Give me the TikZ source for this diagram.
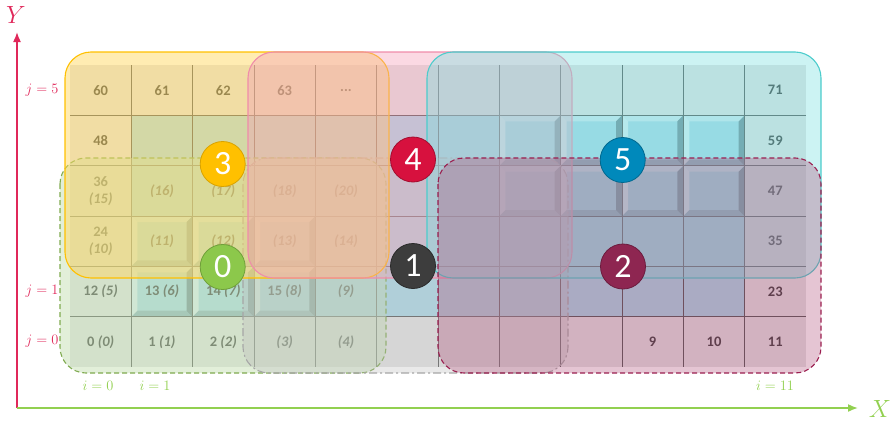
\documentclass[tikz,border=0pt]{standalone}
\usepackage{fontspec}
\newfontfamily\carl{Carlito}
\usetikzlibrary{arrows.meta}
\definecolor{gridgrey}{HTML}{E3E3E3}
\definecolor{gridblue}{HTML}{A8D8E8}
\definecolor{gridline}{HTML}{505050}
\definecolor{txtgrey}{HTML}{383838}
\definecolor{g0fill}{HTML}{C5E0B4}
\definecolor{g0line}{HTML}{7FAA4F}
\definecolor{g1fill}{HTML}{BFBFBF}
\definecolor{g1line}{HTML}{A6A6A6}
\definecolor{g2fill}{HTML}{B0507A}
\definecolor{g2line}{HTML}{9B1F50}
\definecolor{g3fill}{HTML}{FFD966}
\definecolor{g3line}{HTML}{FFC000}
\definecolor{g4fill}{HTML}{F4A0B8}
\definecolor{g4line}{HTML}{F08CAA}
\definecolor{g5fill}{HTML}{7FE0E0}
\definecolor{g5line}{HTML}{4CCCCC}
\definecolor{k0}{HTML}{8CC84B}\definecolor{k0b}{HTML}{6FA03A}
\definecolor{k1}{HTML}{3D3D3D}\definecolor{k1b}{HTML}{2A2A2A}
\definecolor{k2}{HTML}{8E2651}\definecolor{k2b}{HTML}{6C1C3E}
\definecolor{k3}{HTML}{FFC000}\definecolor{k3b}{HTML}{D9A300}
\definecolor{k4}{HTML}{D7113E}\definecolor{k4b}{HTML}{A30D2F}
\definecolor{k5}{HTML}{0089BB}\definecolor{k5b}{HTML}{00688F}
\definecolor{yax}{HTML}{E0285A}
\definecolor{xax}{HTML}{92D050}
\newcommand\bevcell[2]{%
  \pgfmathsetmacro\bxa{70+61.333*#1}%
  \pgfmathsetmacro\bxb{\bxa+61.333}%
  \pgfmathsetmacro\bya{65+50.333*(5-#2)}%
  \pgfmathsetmacro\byb{\bya+50.333}%
  \fill[white,opacity=.45] (\bxa,\bya) -- (\bxb,\bya) -- (\bxb-6,\bya+6) -- (\bxa+6,\bya+6) -- cycle;
  \fill[white,opacity=.6] (\bxa,\bya) -- (\bxa+6,\bya+6) -- (\bxa+6,\byb-6) -- (\bxa,\byb) -- cycle;
  \fill[black,opacity=.35] (\bxb,\bya) -- (\bxb-6,\bya+6) -- (\bxb-6,\byb-6) -- (\bxb,\byb) -- cycle;
  \fill[black,opacity=.18] (\bxa,\byb) -- (\bxa+6,\byb-6) -- (\bxb-6,\byb-6) -- (\bxb,\byb) -- cycle;
}
\newcommand\cellt[3]{\node[celltext] (c#1-#2) at ({70+61.333*(#1+0.5)},{65+50.333*(5.5-#2)}) {#3};}
\begin{document}
\begin{tikzpicture}[x=1pt,y=-1pt,
  celltext/.style={font=\carl\bfseries\fontsize{14.5}{17}\selectfont,text=txtgrey,align=center,inner sep=0},
  region/.style={rounded corners=26pt,line width=1.1pt},
  num/.style={circle,minimum size=45pt,inner sep=0,line width=0.8pt,text=white,font=\carl\fontsize{34}{34}\selectfont},
  jlab/.style={text=yax,font=\fontsize{13.5}{14}\selectfont,inner sep=0},
  ilab/.style={text=xax,font=\fontsize{13.5}{14}\selectfont,inner sep=0}]
\useasboundingbox (0,0) rectangle (891,423);
% grid base
\fill[gridgrey] (70,65) rectangle (806,367);
\fill[gridblue] (131.333,115.333) rectangle (744.667,316.667);
% bevels
\foreach \i/\j in {1/1,2/1,3/1,1/2,2/2,3/2,7/3,8/3,9/3,10/3,7/4,8/4,9/4,10/4}{\bevcell{\i}{\j}}
% grid lines
\foreach \k in {1,...,11}{\draw[gridline,line width=1pt] ({70+61.333*\k},65) -- ({70+61.333*\k},367);}
\foreach \k in {1,...,5}{\draw[gridline,line width=1pt] (70,{65+50.333*\k}) -- (806,{65+50.333*\k});}
% texts
\cellt{0}{5}{60}\cellt{1}{5}{61}\cellt{2}{5}{62}\cellt{3}{5}{63}\cellt{4}{5}{...}\cellt{11}{5}{71}
\cellt{0}{4}{48}\cellt{11}{4}{59}
\cellt{0}{3}{36\\\textit{(15)}}\cellt{1}{3}{\textit{(16)}}\cellt{2}{3}{\textit{(17)}}\cellt{3}{3}{\textit{(18)}}\cellt{4}{3}{\textit{(20)}}\cellt{11}{3}{47}
\cellt{0}{2}{24\\\textit{(10)}}\cellt{1}{2}{\textit{(11)}}\cellt{2}{2}{\textit{(12)}}\cellt{3}{2}{\textit{(13)}}\cellt{4}{2}{\textit{(14)}}\cellt{11}{2}{35}
\cellt{0}{1}{12 \textit{(5)}}\cellt{1}{1}{13 \textit{(6)}}\cellt{2}{1}{14 \textit{(7)}}\cellt{3}{1}{15 \textit{(8)}}\cellt{4}{1}{\textit{(9)}}\cellt{11}{1}{23}
\cellt{0}{0}{0 \textit{(0)}}\cellt{1}{0}{1 \textit{(1)}}\cellt{2}{0}{2 \textit{(2)}}\cellt{3}{0}{\textit{(3)}}\cellt{4}{0}{\textit{(4)}}\cellt{9}{0}{9}\cellt{10}{0}{10}\cellt{11}{0}{11}
% regions
\draw[region,draw=g0line,fill=g0fill,fill opacity=.5,dash pattern=on 5pt off 3pt] (60,158) rectangle (386,373);
\draw[region,draw=g1line,fill=g1fill,fill opacity=.35,dash pattern=on 8pt off 3pt on 2pt off 3pt] (243,158) rectangle (568,373);
\draw[region,draw=g3line,fill=g3fill,fill opacity=.5] (65,52) rectangle (389,278);
\draw[region,draw=g4line,fill=g4fill,fill opacity=.4] (248,52) rectangle (572,278);
\draw[region,draw=g5line,fill=g5fill,fill opacity=.4] (427,52) rectangle (821,278);
\draw[region,draw=g2line,fill=g2fill,fill opacity=.33,dash pattern=on 5pt off 3pt] (438,158) rectangle (821,373);
% numbered circles
\node[num,fill=k0,draw=k0b] (n0) at (222.7,267) {0};
\node[num,fill=k1,draw=k1b] (n1) at (413,266) {1};
\node[num,fill=k2,draw=k2b] (n2) at (623,266.5) {2};
\node[num,fill=k3,draw=k3b] (n3) at (222.7,164) {3};
\node[num,fill=k4,draw=k4b] (n4) at (413,159.5) {4};
\node[num,fill=k5,draw=k5b] (n5) at (622.7,160) {5};
% axes
\coordinate (org) at (17,408);
\coordinate (ytip) at (17,32);
\coordinate (xtip) at (858,408);
\draw[yax,line width=1.6pt,-{Latex[length=10pt,width=8pt]}] (org) -- (ytip);
\draw[xax,line width=1.6pt,-{Latex[length=10pt,width=8pt]}] (org) -- (xtip);
\node[text=yax,font=\fontsize{23}{24}\selectfont,inner sep=0] (ylab) at (16,15) {$Y$};
\node[text=xax,font=\fontsize{23}{24}\selectfont,inner sep=0] (xlab) at (880,409) {$X$};
\node[jlab] (j5) at (42,90) {$j=5$};
\node[jlab] (j1) at (42,291) {$j=1$};
\node[jlab] (j0) at (42,341) {$j=0$};
\node[ilab] (i0) at (98,386) {$i=0$};
\node[ilab] (i1) at (155,386) {$i=1$};
\node[ilab] (i11) at (775,386) {$i=11$};
\end{tikzpicture}
\end{document}
